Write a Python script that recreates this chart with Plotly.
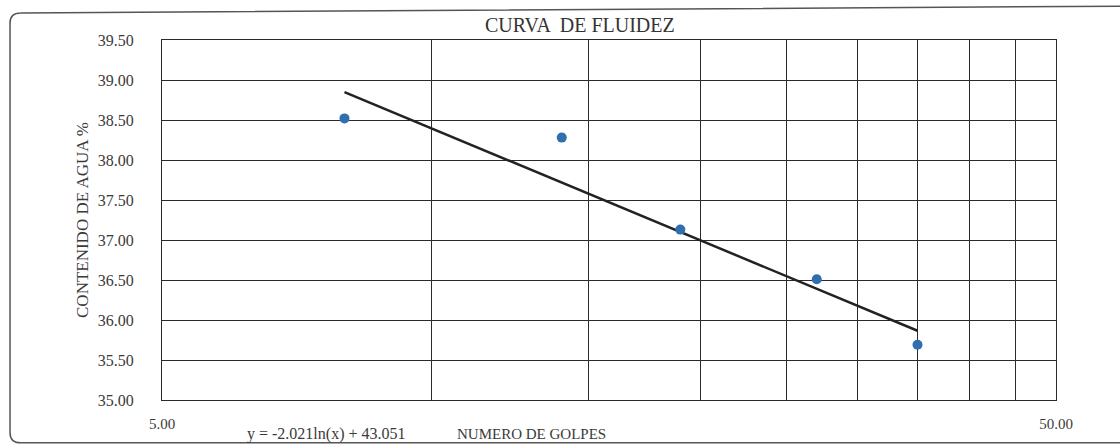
import numpy as np
import plotly.graph_objects as go

# lecturas del ensayo de limite liquido
golpes = [8, 14, 19, 27, 35]
humedad = [38.52, 38.28, 37.13, 36.51, 35.69]

# linea de tendencia logaritmica (Excel)
coef_a = -2.021
coef_b = 43.051

x_ticks = [5, 10, 15, 20, 25, 30, 35, 40, 45, 50]
x_labels = ["5.00", "", "", "", "", "", "", "", "", "50.00"]
y_ticks = [35.0, 35.5, 36.0, 36.5, 37.0, 37.5, 38.0, 38.5, 39.0, 39.5]

FONT = "Liberation Serif, Times New Roman, serif"
GRID = "#2b2b2b"

x_fit = np.linspace(min(golpes), max(golpes), 60)
y_fit = coef_a * np.log(x_fit) + coef_b

fig = go.Figure()
fig.add_trace(go.Scatter(
    x=x_fit, y=y_fit, mode="lines",
    line=dict(color="#222222", width=2.5),
))
fig.add_trace(go.Scatter(
    x=golpes, y=humedad, mode="markers",
    marker=dict(color="#2f6fad", size=10),
))

fig.update_layout(
    width=1120, height=446,
    margin=dict(l=162, r=64, t=40, b=46),
    plot_bgcolor="white",
    paper_bgcolor="white",
    showlegend=False,
    font=dict(family=FONT, color="#3a3a3a", size=15),
    xaxis=dict(
        type="log", range=[np.log10(5), np.log10(50)],
        tickvals=x_ticks, ticktext=x_labels,
        showgrid=True, gridcolor=GRID, gridwidth=1.3,
        showline=True, linecolor=GRID, linewidth=1.3, mirror=True,
        ticks="", zeroline=False, ticklabelstandoff=10,
        tickfont=dict(size=15),
    ),
    yaxis=dict(
        range=[35, 39.5], tickvals=y_ticks, tickformat=".2f",
        showgrid=True, gridcolor=GRID, gridwidth=1.3,
        showline=True, linecolor=GRID, linewidth=1.3, mirror=True,
        ticks="", zeroline=False, ticklabelstandoff=24,
        title=dict(text="CONTENIDO DE AGUA %", font=dict(size=17), standoff=4),
        tickfont=dict(size=16),
    ),
    annotations=[
        dict(text="CURVA  DE FLUIDEZ", x=0.4676, y=1.042, xref="paper", yref="paper",
             xanchor="center", yanchor="middle", showarrow=False,
             font=dict(size=20, color="#333333")),
        dict(text="y = -2.021ln(x) + 43.051", x=(245 - 162) / 894, y=-0.095,
             xref="paper", yref="paper", xanchor="left", yanchor="middle",
             showarrow=False, font=dict(size=16)),
        dict(text="NUMERO DE GOLPES", x=(455 - 162) / 894, y=-0.095,
             xref="paper", yref="paper", xanchor="left", yanchor="middle",
             showarrow=False, font=dict(size=15)),
    ],
    shapes=[
        dict(type="path", xref="paper", yref="paper",
             path="M -0.158,1.075 L 1.08,1.094 M 1.08,-0.119 "
                  "L -0.158,-0.119 Q -0.170,-0.119 -0.170,-0.09 "
                  "L -0.170,1.047 Q -0.170,1.075 -0.158,1.075",
             line=dict(color="#555555", width=1.5)),
    ],
)

fig.write_html("out.html", config=dict(displayModeBar=False),
               post_script="document.body.style.margin='0';")
